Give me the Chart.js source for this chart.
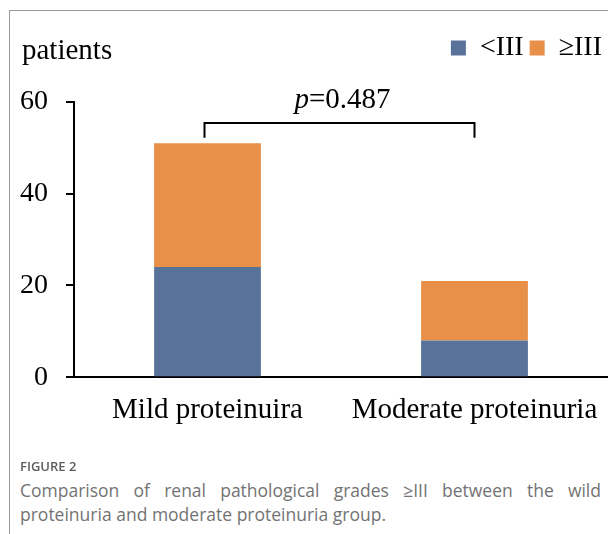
<!DOCTYPE html>
<html>
<head>
<meta charset="utf-8">
<script src="https://cdn.jsdelivr.net/npm/chart.js@4"></script>
<style>
  html, body { margin: 0; padding: 0; background: #fff; }
  body { width: 608px; height: 534px; position: relative; overflow: hidden; }
  .frame { position: absolute; left: 9px; top: 10px; right: -2px; bottom: -2px;
           border-left: 1px solid #9a9a9a; border-top: 1px solid #9a9a9a; }
  #wrap { position: absolute; left: 0; top: 0; width: 608px; height: 458px; }
  .fig { position: absolute; left: 20px; top: 457px; font-family: "Open Sans", sans-serif;
         font-size: 13px; font-weight: 600; color: #5c5c5c; }
  .cap { position: absolute; left: 20px; top: 478px; width: 581px; font-family: "Open Sans", sans-serif;
         font-size: 17.5px; line-height: 24px; color: #737373; text-align: justify; }
</style>
</head>
<body>
<div class="frame"></div>
<div id="wrap"><canvas id="grafico"></canvas></div>
<div class="fig">FIGURE 2</div>
<div class="cap">Comparison of renal pathological grades ≥III between the wild proteinuria and moderate proteinuria group.</div>
<script>
// dados do gráfico
const categorias = ['Mild proteinuira', 'Moderate proteinuria'];
const menorIII = [24, 8];
const maiorIgualIII = [27, 13];
const ticksY = [0, 20, 40, 60];
const pValor = 'p=0.487';

const SERIF = '"Liberation Serif", "Times New Roman", serif';

// texto "patients" e colchete do p-valor
const anotacoes = {
    id: 'anotacoes',
    afterDatasetsDraw(chart) {
        const ctx = chart.ctx;
        const x = chart.scales.x, y = chart.scales.y;
        ctx.save();
        ctx.fillStyle = '#000';
        ctx.font = '29px ' + SERIF;
        ctx.textBaseline = 'alphabetic';
        ctx.textAlign = 'left';
        ctx.fillText('patients', 22, 59);

        // colchete
        const x1 = x.getPixelForValue(0) - 3, x2 = x.getPixelForValue(1);
        const yTop = y.getPixelForValue(55.4), yEnd = y.getPixelForValue(52.2);
        ctx.strokeStyle = '#000';
        ctx.lineWidth = 2;
        ctx.beginPath();
        ctx.moveTo(x1, yEnd);
        ctx.lineTo(x1, yTop);
        ctx.lineTo(x2, yTop);
        ctx.lineTo(x2, yEnd);
        ctx.stroke();

        // p=0.487 com p em itálico
        const partes = [pValor.slice(0, 1), pValor.slice(1)];
        ctx.font = 'italic 29px ' + SERIF;
        const w1 = ctx.measureText(partes[0]).width;
        ctx.font = '29px ' + SERIF;
        const w2 = ctx.measureText(partes[1]).width;
        const xc = (x1 + x2) / 2 + 3;
        const yb = y.getPixelForValue(58.6);
        const xs = xc - (w1 + w2) / 2;
        ctx.font = 'italic 29px ' + SERIF;
        ctx.fillText(partes[0], xs, yb);
        ctx.font = '29px ' + SERIF;
        ctx.fillText(partes[1], xs + w1, yb);
        ctx.restore();
    }
};

// espaço extra abaixo da legenda
const espacoLegenda = {
    id: 'espacoLegenda',
    beforeInit(chart) {
        const fitOrig = chart.legend.fit;
        chart.legend.fit = function () {
            fitOrig.bind(chart.legend)();
            this.height += 30;
        };
    }
};

new Chart(document.getElementById('grafico').getContext('2d'), {
    type: 'bar',
    data: {
        labels: categorias,
        datasets: [
            {
                label: '<III',
                data: menorIII,
                backgroundColor: '#59729a',
                borderWidth: 0
            },
            {
                label: '≥III',
                data: maiorIgualIII,
                backgroundColor: '#e88f48',
                borderWidth: 0
            }
        ]
    },
    options: {
        responsive: true,
        maintainAspectRatio: false,
        animation: false,
        layout: { padding: { left: 2, right: 0, top: 28, bottom: 14 } },
        datasets: { bar: { categoryPercentage: 1, barPercentage: 0.4 } },
        plugins: {
            legend: {
                position: 'top',
                align: 'end',
                labels: {
                    boxWidth: 15,
                    boxHeight: 15,
                    padding: 6,
                    color: '#000',
                    font: { family: SERIF, size: 28 }
                }
            },
            tooltip: { enabled: false }
        },
        scales: {
            x: {
                stacked: true,
                grid: { display: false, drawTicks: false },
                border: { display: true, color: '#000', width: 2 },
                ticks: { color: '#000', padding: 16, font: { family: SERIF, size: 29 } },
                afterFit(scale) { scale.paddingLeft = 0; scale.paddingRight = 0; }
            },
            y: {
                stacked: true,
                min: 0,
                max: 60,
                afterBuildTicks(axis) { axis.ticks = ticksY.map(v => ({ value: v })); },
                grid: { drawOnChartArea: false, drawTicks: true, tickLength: 8, color: '#000', lineWidth: 2 },
                border: { display: true, color: '#000', width: 2 },
                ticks: { color: '#000', padding: 18, font: { family: SERIF, size: 28 } }
            }
        }
    },
    plugins: [espacoLegenda, anotacoes]
});
</script>
</body>
</html>
